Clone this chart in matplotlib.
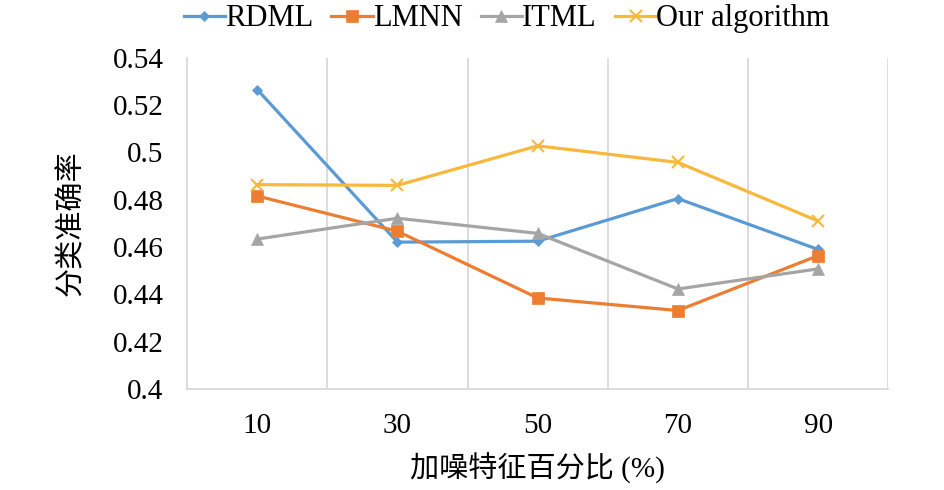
import numpy as np
import matplotlib
matplotlib.use("Agg")
import matplotlib.pyplot as plt

plt.rcParams['font.family'] = ['Liberation Serif', 'Noto Sans CJK SC']

# data
categories = ["10", "30", "50", "70", "90"]
rdml = [0.5266, 0.4621, 0.4625, 0.4805, 0.4590]
lmnn = [0.4816, 0.4667, 0.4385, 0.4332, 0.4564]
itml = [0.4634, 0.4722, 0.4658, 0.4423, 0.4508]
ours = [0.4864, 0.4861, 0.5028, 0.4958, 0.4710]

series = [
    ("RDML", rdml, "#5B9BD5", "D", 5.5),
    ("LMNN", lmnn, "#ED7D31", "s", 9),
    ("ITML", itml, "#A5A5A5", "^", 8),
    ("Our algorithm", ours, "#F7B83C", "x", 8),
]

fig = plt.figure(figsize=(9.45, 4.9), dpi=100)
ax = fig.add_axes([0.198, 0.206, 0.742, 0.676])

x = np.arange(len(categories))
for name, vals, col, mk, ms in series:
    ax.plot(x, vals, color=col, lw=2.3, marker=mk, markersize=ms,
            markeredgewidth=1.5 if mk == "x" else 0.5, label=name)

ax.set_xlim(-0.5, len(categories) - 0.5)
ax.set_ylim(0.4, 0.54)
ax.set_xticks(x)
ax.set_xticklabels(categories)
ax.set_xticks(np.arange(0.5, len(categories) - 0.4, 1), minor=True)
ax.set_yticks(np.arange(0.40, 0.541, 0.02))
ax.set_yticklabels(["0.4", "0.42", "0.44", "0.46", "0.48", "0.5", "0.52", "0.54"])
ax.grid(which="minor", axis="x", color="#D9D9D9", lw=1.3)
ax.tick_params(which="both", length=0, labelsize=21)
ax.tick_params(axis="x", pad=17)
ax.tick_params(axis="y", pad=17)

for s in ["top", "right"]:
    ax.spines[s].set_visible(False)
for s in ["left", "bottom"]:
    ax.spines[s].set_color("#D9D9D9")
    ax.spines[s].set_linewidth(1.3)

ax.set_xlabel("加噪特征百分比 (%)", fontsize=21, labelpad=10)
ax.set_ylabel("分类准确率", fontsize=21, labelpad=20)

ax.legend(loc="center left", bbox_to_anchor=(-0.005, 1.118), ncol=4, frameon=False,
          fontsize=22, handlelength=1.35, handletextpad=0.0, columnspacing=0.6,
          borderaxespad=0, borderpad=0)

fig.savefig("out.png", dpi=100)
